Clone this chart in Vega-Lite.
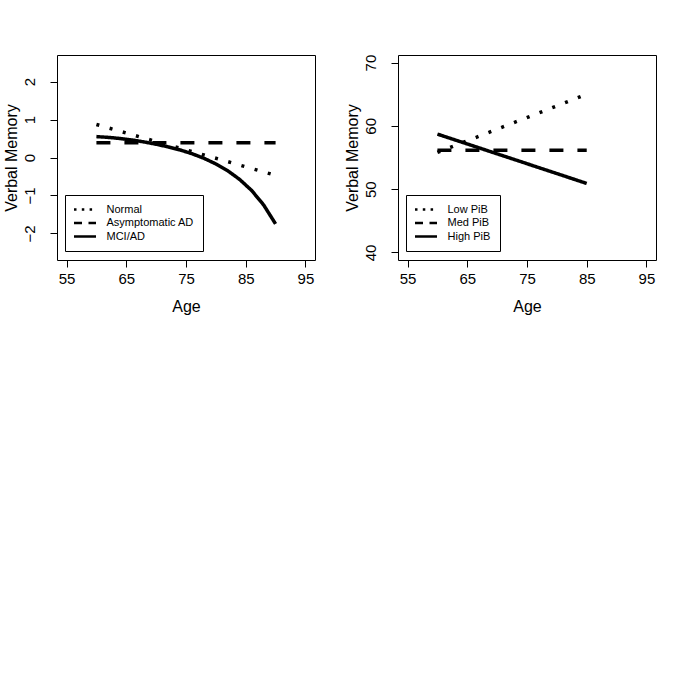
{
  "$schema": "https://vega.github.io/schema/vega-lite/v6.json",
  "padding": {"left": 2, "top": 53, "right": 5, "bottom": 5},
  "background": "white",
  "config": {
    "font": "Liberation Sans",
    "view": {"stroke": "black", "strokeWidth": 1},
    "axis": {
      "grid": false, "domain": false, "tickColor": "black", "tickSize": 7, "tickWidth": 1,
      "labelColor": "black", "titleColor": "black", "labelFontSize": 15, "titleFontSize": 16,
      "titleFontWeight": "normal", "labelFlush": false, "labelOverlap": false
    },
    "axisX": {"labelPadding": 4, "titlePadding": 12},
    "axisY": {"labelAngle": -90, "labelAlign": "center", "labelBaseline": "bottom", "labelPadding": 13, "titlePadding": 3},
    "legend": {
      "orient": "none", "legendX": 8, "legendY": 140, "symbolType": "M-2.75,0L2.75,0", "symbolSize": 64,
      "symbolStrokeWidth": 2.5, "symbolStrokeColor": "black", "symbolOpacity": 1, "strokeColor": "black", "fillColor": "white",
      "padding": 9, "symbolOffset": 5.5, "labelFontSize": 11, "labelOffset": 16, "rowPadding": 1.5, "labelColor": "black"
    }
  },
  "datasets": {
    "cognition": [
      {"age": 60, "memory": 0.87, "group": "Normal"},
      {"age": 70, "memory": 0.42, "group": "Normal"},
      {"age": 80, "memory": -0.02, "group": "Normal"},
      {"age": 90, "memory": -0.47, "group": "Normal"},
      {"age": 60, "memory": 0.39, "group": "Asymptomatic AD"},
      {"age": 90, "memory": 0.39, "group": "Asymptomatic AD"},
      {"age": 60, "memory": 0.55, "group": "MCI/AD"},
      {"age": 62, "memory": 0.53, "group": "MCI/AD"},
      {"age": 64, "memory": 0.5, "group": "MCI/AD"},
      {"age": 66, "memory": 0.46, "group": "MCI/AD"},
      {"age": 68, "memory": 0.41, "group": "MCI/AD"},
      {"age": 70, "memory": 0.35, "group": "MCI/AD"},
      {"age": 72, "memory": 0.28, "group": "MCI/AD"},
      {"age": 74, "memory": 0.2, "group": "MCI/AD"},
      {"age": 76, "memory": 0.1, "group": "MCI/AD"},
      {"age": 78, "memory": -0.02, "group": "MCI/AD"},
      {"age": 80, "memory": -0.17, "group": "MCI/AD"},
      {"age": 82, "memory": -0.35, "group": "MCI/AD"},
      {"age": 84, "memory": -0.58, "group": "MCI/AD"},
      {"age": 86, "memory": -0.87, "group": "MCI/AD"},
      {"age": 88, "memory": -1.25, "group": "MCI/AD"},
      {"age": 90, "memory": -1.75, "group": "MCI/AD"}
    ],
    "pib": [
      {"age": 60, "memory": 55.8, "group": "Low PiB"},
      {"age": 85, "memory": 65.0, "group": "Low PiB"},
      {"age": 60, "memory": 56.15, "group": "Med PiB"},
      {"age": 85, "memory": 56.15, "group": "Med PiB"},
      {"age": 60, "memory": 58.7, "group": "High PiB"},
      {"age": 85, "memory": 50.9, "group": "High PiB"}
    ]
  },
  "spacing": 27,
  "hconcat": [
    {
      "width": 258, "height": 205,
      "data": {"name": "cognition"},
      "encoding": {
        "x": {"field": "age", "type": "quantitative", "scale": {"domain": [53.4, 96.6], "nice": false, "zero": false},
              "axis": {"values": [55, 65, 75, 85, 95], "title": "Age"}},
        "y": {"field": "memory", "type": "quantitative", "scale": {"domain": [-2.7, 2.7], "nice": false, "zero": false},
              "axis": {"values": [-2, -1, 0, 1, 2], "title": "Verbal Memory"}}
      },
      "layer": [
        {
          "mark": {"type": "line", "color": "black", "strokeWidth": 3.5, "strokeCap": "butt"},
          "encoding": {
            "strokeDash": {"field": "group", "type": "nominal",
              "scale": {"domain": ["Normal", "Asymptomatic AD", "MCI/AD"], "range": [[3, 10.7], [14, 14], [1, 0]]},
              "legend": null}
          }
        },
        {
          "mark": {"type": "line", "color": "black", "strokeWidth": 2.5, "strokeCap": "butt", "opacity": 0},
          "encoding": {
            "strokeDash": {"field": "group", "type": "nominal",
              "scale": {"domain": ["Normal", "Asymptomatic AD", "MCI/AD"], "range": [[2.5, 5.3], [8, 6.5], [1, 0]]},
              "legend": {"title": null}}
          }
        }
      ],
      "resolve": {"scale": {"strokeDash": "independent"}}
    },
    {
      "width": 258, "height": 205,
      "data": {"name": "pib"},
      "encoding": {
        "x": {"field": "age", "type": "quantitative", "scale": {"domain": [53.4, 96.6], "nice": false, "zero": false},
              "axis": {"values": [55, 65, 75, 85, 95], "title": "Age"}},
        "y": {"field": "memory", "type": "quantitative", "scale": {"domain": [38.8, 71.2], "nice": false, "zero": false},
              "axis": {"values": [40, 50, 60, 70], "title": "Verbal Memory"}}
      },
      "layer": [
        {
          "mark": {"type": "line", "color": "black", "strokeWidth": 3.5, "strokeCap": "butt"},
          "encoding": {
            "strokeDash": {"field": "group", "type": "nominal",
              "scale": {"domain": ["Low PiB", "Med PiB", "High PiB"], "range": [[3, 10.7], [14, 14], [1, 0]]},
              "legend": null}
          }
        },
        {
          "mark": {"type": "line", "color": "black", "strokeWidth": 2.5, "strokeCap": "butt", "opacity": 0},
          "encoding": {
            "strokeDash": {"field": "group", "type": "nominal",
              "scale": {"domain": ["Low PiB", "Med PiB", "High PiB"], "range": [[2.5, 5.3], [8, 6.5], [1, 0]]},
              "legend": {"title": null}}
          }
        }
      ],
      "resolve": {"scale": {"strokeDash": "independent"}}
    }
  ],
  "resolve": {"scale": {"strokeDash": "independent", "y": "independent"}, "legend": {"strokeDash": "independent"}}
}
